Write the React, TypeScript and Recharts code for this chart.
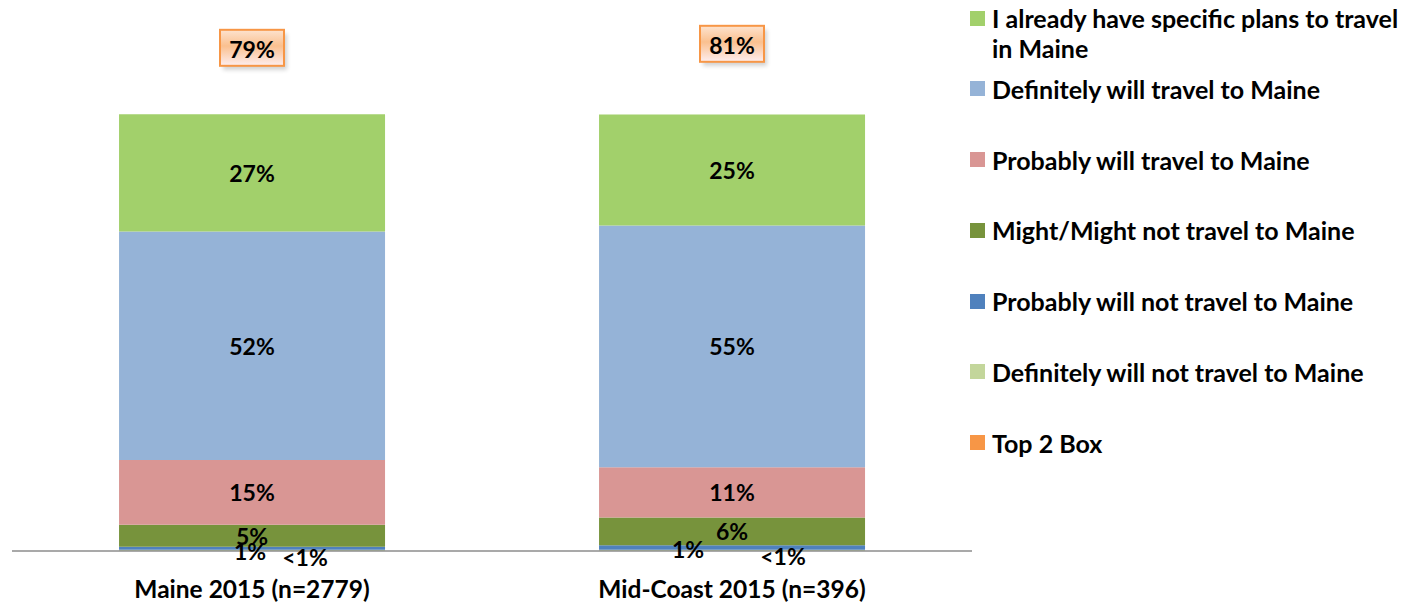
import React from "react";
import { Bar, ComposedChart, LabelList, Line, XAxis, YAxis } from "recharts";

const categories = ["Maine 2015 (n=2779)", "Mid-Coast 2015 (n=396)"];

const definitelyNot = [0.3, 0.3];
const probablyNot = [0.7, 1.0];
const mightNot = [5.0, 6.4];
const probably = [14.9, 11.49];
const definitely = [52.4, 55.49];
const alreadyPlans = [26.9, 25.49];
const top2Box = [79, 81];

// stacking order, bottom to top
const series = [
  { key: "definitelyNot", name: "Definitely will not travel to Maine", color: "#C3D69B", values: definitelyNot },
  { key: "probablyNot", name: "Probably will not travel to Maine", color: "#4F81BD", values: probablyNot },
  { key: "mightNot", name: "Might/Might not travel to Maine", color: "#77933C", values: mightNot },
  { key: "probably", name: "Probably will travel to Maine", color: "#D99694", values: probably },
  { key: "definitely", name: "Definitely will travel to Maine", color: "#95B3D7", values: definitely },
  { key: "alreadyPlans", name: "I already have specific plans to travel in Maine", color: "#A2D06B", values: alreadyPlans },
];

const data = categories.map((label, i) => {
  const row: Record<string, string | number> = { label, top2: top2Box[i] };
  series.forEach((s) => {
    row[s.key] = s.values[i];
  });
  return row;
});

// nudges for the tiny segments whose labels would overlap
const labelNudge: Record<string, [number, number][]> = {
  definitelyNot: [[53, 7], [51, 6]],
  probablyNot: [[-2, 3], [-44, 1]],
};

const FONT = "Lato, 'Open Sans', sans-serif";

const pct = (v: number) => (v > 0 && v < 0.5 ? "<1%" : `${Math.round(v)}%`);

function SegmentLabel(props: any) {
  const { x, y, width, height, value, index, seriesKey } = props;
  const nudge = labelNudge[seriesKey]?.[index] ?? [0, 0];
  return (
    <text
      x={x + width / 2 + nudge[0]}
      y={y + height / 2 + nudge[1]}
      textAnchor="middle"
      dominantBaseline="central"
      fontFamily={FONT}
      fontWeight={700}
      fontSize={23}
      fill="#000"
    >
      {pct(Number(value))}
    </text>
  );
}

function BoxLabel(props: any) {
  const { x, y, value } = props;
  const w = 64;
  const h = 36;
  return (
    <g>
      <rect x={x - w / 2 + 3} y={y - h / 2 + 4} width={w} height={h} fill="#000" opacity={0.18} filter="url(#blur)" />
      <rect x={x - w / 2} y={y - h / 2} width={w} height={h} fill="url(#boxFill)" stroke="#F79646" strokeWidth={2} />
      <text
        x={x}
        y={y + 1}
        textAnchor="middle"
        dominantBaseline="central"
        fontFamily={FONT}
        fontWeight={700}
        fontSize={23}
        fill="#000"
      >
        {`${value}%`}
      </text>
    </g>
  );
}

function CategoryTick(props: any) {
  const { x, y, payload } = props;
  return (
    <text x={x} y={y + 39} textAnchor="middle" fontFamily={FONT} fontWeight={700} fontSize={24.5} fill="#000">
      {payload.value}
    </text>
  );
}

const legendItems = [...series].reverse().map((s) => ({ name: s.name, color: s.color }));
legendItems.push({ name: "Top 2 Box", color: "#F79646" });

export default function App() {
  return (
    <div style={{ position: "absolute", left: 0, top: 0, width: 1406, height: 602, background: "#fff" }}>
      <ComposedChart
        width={1406}
        height={602}
        data={data}
        margin={{ top: 28, right: 434, bottom: 0, left: 12 }}
        barCategoryGap="22.3%"
      >
        <defs>
          <linearGradient id="boxFill" x1="0" y1="0" x2="0" y2="1">
            <stop offset="0%" stopColor="#FDE3CF" />
            <stop offset="45%" stopColor="#FAC08F" />
            <stop offset="100%" stopColor="#FDEEF0" />
          </linearGradient>
          <filter id="blur" x="-20%" y="-20%" width="140%" height="140%">
            <feGaussianBlur stdDeviation="2" />
          </filter>
        </defs>
        <XAxis
          dataKey="label"
          height={51}
          tickLine={false}
          axisLine={{ stroke: "#8C8C8C", strokeWidth: 1.5 }}
          tick={<CategoryTick />}
          interval={0}
        />
        <YAxis yAxisId="pct" domain={[0, 120]} hide />
        <YAxis yAxisId="t2b" domain={[-172.5, 88.9]} hide />
        {series.map((s) => (
          <Bar key={s.key} yAxisId="pct" dataKey={s.key} stackId="a" fill={s.color} isAnimationActive={false}>
            <LabelList dataKey={s.key} content={<SegmentLabel seriesKey={s.key} />} />
          </Bar>
        ))}
        <Line
          yAxisId="t2b"
          dataKey="top2"
          stroke="none"
          dot={false}
          activeDot={false}
          isAnimationActive={false}
        >
          <LabelList dataKey="top2" content={<BoxLabel />} />
        </Line>
      </ComposedChart>
      <div style={{ position: "absolute", left: 970, top: 3, width: 436, fontFamily: FONT, fontWeight: 700, fontSize: 25 }}>
        {legendItems.map((item) => (
          <div key={item.name} style={{ display: "flex", alignItems: "flex-start", height: 70.8 }}>
            <span style={{ width: 15, height: 15, background: item.color, marginTop: 7.5, flexShrink: 0 }} />
            <span style={{ marginLeft: 7, lineHeight: "30px", color: "#000" }}>{item.name}</span>
          </div>
        ))}
      </div>
    </div>
  );
}
